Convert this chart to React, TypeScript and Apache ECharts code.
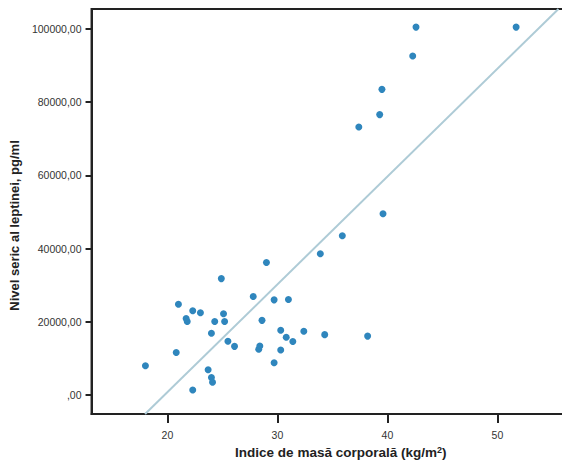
import React, { useEffect, useRef } from "react";
import * as echarts from "echarts";

const bmi = [
  18.0, 20.8, 21.0, 21.7, 21.8, 22.3, 23.0, 22.3, 23.7, 24.0, 24.1, 24.0, 24.3, 24.9,
  25.1, 25.2, 25.5, 26.1, 27.8, 28.6, 28.4, 28.3, 29.0, 29.7, 29.7, 30.3, 30.3, 30.8,
  31.0, 31.4, 32.4, 33.9, 34.3, 35.9, 37.4, 38.2, 39.3, 39.5, 39.6, 42.3, 42.6, 51.7,
];
const leptin = [
  8000, 11600, 24800, 20900, 20100, 23000, 22500, 1400, 6900, 4800, 3500, 16900, 20100, 31800,
  22200, 20100, 14700, 13300, 26900, 20400, 13400, 12500, 36200, 26000, 8800, 17700, 12300, 15800,
  26100, 14600, 17400, 38600, 16500, 43500, 73200, 16100, 76600, 83500, 49500, 92600, 100500, 100500,
];
const fitLine = [
  [17.97, -5180],
  [55.55, 105450],
];
const xTicks = [20, 30, 40, 50];
const yTicks = [0, 20000, 40000, 60000, 80000, 100000];

const FONT = "Arial, 'Liberation Sans', Helvetica, sans-serif";

export default function App() {
  const ref = useRef<HTMLDivElement>(null);
  useEffect(() => {
    if (!ref.current) return;
    const chart = echarts.init(ref.current, null, { renderer: "svg" });
    chart.setOption({
      animation: false,
      backgroundColor: "#ffffff",
      grid: {
        left: 88,
        top: 9,
        bottom: 54,
        width: 486,
        show: true,
        borderColor: "#222222",
        borderWidth: 2,
        backgroundColor: "transparent",
      },
      xAxis: {
        type: "value",
        min: 13.1,
        max: 56.6,
        axisLine: { show: true, onZero: false, lineStyle: { color: "#222222", width: 2 } },
        axisTick: {
          show: true,
          customValues: xTicks,
          length: 9,
          lineStyle: { color: "#222222", width: 2 },
        },
        axisLabel: {
          customValues: xTicks,
          color: "#333333",
          fontSize: 10.5,
          fontFamily: FONT,
          margin: 15,
        },
        splitLine: { show: false },
        name: "Indice de masă corporală (kg/m{sup|2})",
        nameLocation: "middle",
        nameGap: 31,
        nameTextStyle: {
          fontFamily: FONT,
          fontSize: 13.5,
          fontWeight: "bold",
          color: "#222222",
          padding: [0, 0, 0, 20],
          rich: {
            sup: {
              fontFamily: FONT,
              fontSize: 9,
              fontWeight: "bold",
              color: "#222222",
              verticalAlign: "top",
              padding: [0, 0, 5, 0],
            },
          },
        },
      },
      yAxis: {
        type: "value",
        min: -5180,
        max: 105450,
        axisLine: { show: true, onZero: false, lineStyle: { color: "#222222", width: 2 } },
        axisTick: {
          show: true,
          customValues: yTicks,
          length: 6,
          lineStyle: { color: "#222222", width: 2 },
        },
        axisLabel: {
          customValues: yTicks,
          color: "#333333",
          fontSize: 10.5,
          fontFamily: FONT,
          margin: 10,
          formatter: (v: number) => (v === 0 ? ",00" : v + ",00"),
        },
        splitLine: { show: false },
        name: "Nivel seric al leptinei, pg/ml",
        nameLocation: "middle",
        nameGap: 65,
        nameTextStyle: {
          fontFamily: FONT,
          fontSize: 13,
          fontWeight: "bold",
          color: "#222222",
          padding: [0, 28, 0, 0],
        },
      },
      series: [
        {
          type: "line",
          data: fitLine,
          symbol: "none",
          lineStyle: { color: "#aecbd6", width: 2 },
          silent: true,
          z: 1,
        },
        {
          type: "scatter",
          data: bmi.map((x, i) => [x, leptin[i]]),
          symbolSize: 7,
          itemStyle: { color: "#2f86bd", opacity: 1 },
          z: 2,
        },
      ],
    });
    return () => chart.dispose();
  }, []);
  return <div ref={ref} style={{ width: 570, height: 468, margin: -8 }} />;
}
